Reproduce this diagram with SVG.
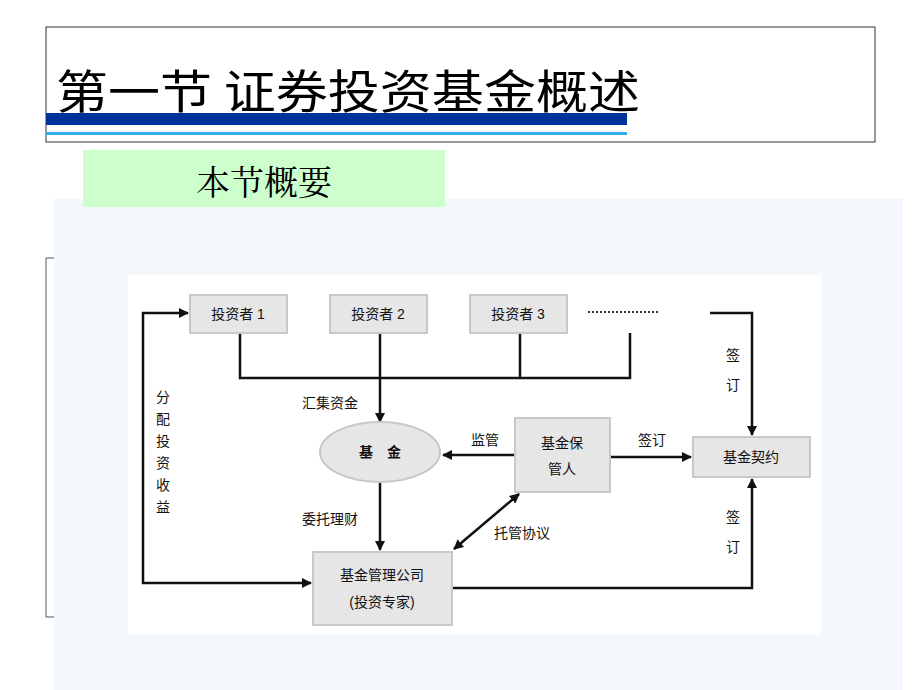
<svg xmlns="http://www.w3.org/2000/svg" width="920" height="690" viewBox="0 0 920 690">
<style>
.b{fill:#e6e6e6;stroke:#c8c8c8;stroke-width:2}
.t{font-family:"Liberation Sans","Noto Sans CJK SC",sans-serif;font-size:14px;fill:#111;text-anchor:middle}
.l{stroke:#111;stroke-width:2.5;fill:none}
</style>
<defs><marker id="a" viewBox="0 0 10 10" refX="9" refY="5" markerWidth="4" markerHeight="4" orient="auto-start-reverse"><path d="M0,0L10,5L0,10z" fill="#111"/></marker></defs>
<rect width="920" height="690" fill="#fff"/>
<rect x="46" y="27" width="829" height="115" fill="#fff" stroke="#333" stroke-width="1"/>
<rect x="46" y="113" width="581" height="12" fill="#003399"/>
<rect x="46" y="132" width="581" height="3" fill="#33aaee"/>
<text x="56" y="108" font-family="'Noto Sans CJK SC',sans-serif" font-size="46" fill="#000" textLength="584" lengthAdjust="spacingAndGlyphs">第一节  证券投资基金概述</text>
<rect x="54" y="199" width="849" height="491" fill="#f4f8fc"/>
<rect x="83" y="150" width="362" height="57" fill="#ccffcc"/>
<text x="264" y="195" font-family="'Noto Serif CJK SC','Noto Sans CJK SC',serif" font-size="34" fill="#000" text-anchor="middle">本节概要</text>
<path d="M54,258H46V617H54" stroke="#555" fill="none"/>
<rect x="128" y="275" width="694" height="360" fill="#fff"/>
<g id="connectors">
<path class="l" d="M240,333V378H630V333M520,333V378"/>
<path class="l" d="M380,333V422" marker-end="url(#a)"/>
<path class="l" d="M380,482V550" marker-end="url(#a)"/>
<path class="l" d="M515,455H443" marker-end="url(#a)"/>
<path class="l" d="M610,457H691" marker-end="url(#a)"/>
<path class="l" d="M454,549L519,494" marker-start="url(#a)" marker-end="url(#a)"/>
<path class="l" d="M710,313H752V435" marker-end="url(#a)"/>
<path class="l" d="M452,588H752V479" marker-end="url(#a)"/>
<path class="l" d="M311,583H143V313H188" marker-start="url(#a)" marker-end="url(#a)"/>
<path d="M588,312H660" stroke="#333" stroke-width="2" stroke-dasharray="2,2"/>
</g>
<g id="inv1"><rect class="b" x="190" y="295" width="97" height="38"/><text class="t" x="238" y="319">投资者 1</text></g>
<g id="inv2"><rect class="b" x="330" y="295" width="97" height="38"/><text class="t" x="378" y="319">投资者 2</text></g>
<g id="inv3"><rect class="b" x="470" y="295" width="97" height="38"/><text class="t" x="518" y="319">投资者 3</text></g>
<g id="fund"><ellipse cx="380" cy="452" rx="60" ry="30" fill="#e6e6e6" stroke="#c8c8c8" stroke-width="2"/><text class="t" x="380" y="457" font-weight="bold">基　金</text></g>
<g id="cust"><rect class="b" x="515" y="418" width="95" height="74"/><text class="t" x="562" y="448">基金保</text><text class="t" x="562" y="474">管人</text></g>
<g id="contract"><rect class="b" x="693" y="437" width="117" height="40"/><text class="t" x="751" y="462">基金契约</text></g>
<g id="mgr"><rect class="b" x="313" y="552" width="139" height="73"/><text class="t" x="382" y="580">基金管理公司</text><text class="t" x="382" y="607">(投资专家)</text></g>
<g class="t">
<text x="330" y="408">汇集资金</text>
<text x="485" y="445">监管</text>
<text x="652" y="445">签订</text>
<text x="330" y="524">委托理财</text>
<text x="522" y="538">托管协议</text>
<text x="163" y="402">分</text><text x="163" y="424">配</text><text x="163" y="446">投</text><text x="163" y="468">资</text><text x="163" y="490">收</text><text x="163" y="512">益</text>
<text x="733" y="360">签</text><text x="733" y="390">订</text>
<text x="733" y="522">签</text><text x="733" y="552">订</text>
</g>
</svg>
